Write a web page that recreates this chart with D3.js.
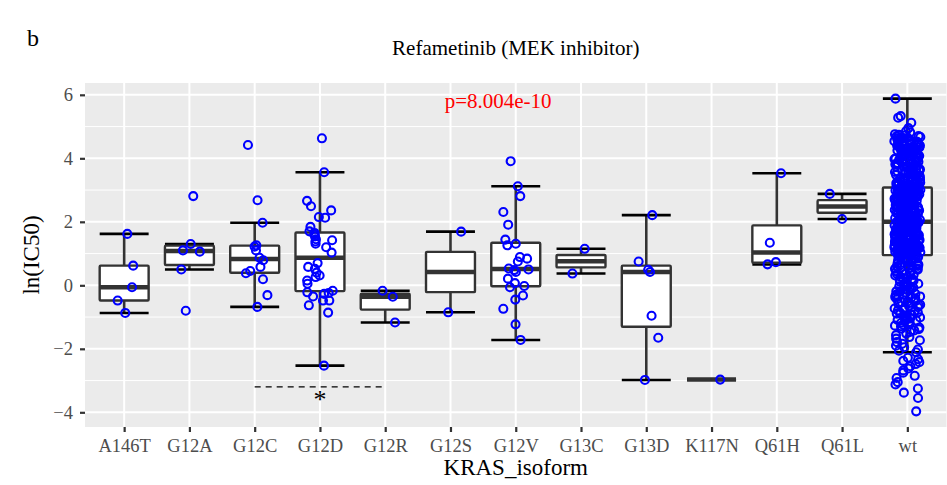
<!DOCTYPE html>
<html>
<head>
<meta charset="utf-8">
<script src="https://cdnjs.cloudflare.com/ajax/libs/d3/7.8.5/d3.min.js"></script>
<style>
  body { margin: 0; background: #fff; }
  svg text { font-family: "Liberation Serif", "Times New Roman", serif; }
</style>
</head>
<body>
<div id="my_chart"></div>
<script>

// KRAS isoforms on the x axis
var isoforms = ["A146T", "G12A", "G12C", "G12D", "G12R", "G12S", "G12V", "G13C", "G13D", "K117N", "Q61H", "Q61L", "wt"];

// ln(IC50) of each cell line
var ic50_A146T = [1.62, 0.62, -0.06, -0.48, -0.87];
var ic50_G12A = [1.30, 1.06, 1.10, 0.50, 2.81, -0.80];
var ic50_G12C = [4.42, 2.68, 1.97, 1.26, 1.22, 1.10, 0.87, 0.79, 0.58, 0.45, 0.38, 0.19, -0.31, -0.68];
var ic50_G12D = [4.63, 3.56, 2.66, 2.49, 2.36, 2.15, 2.13, 1.84, 1.70, 1.65, 1.60, 1.54, 1.45, 1.42, 1.38,
  1.31, 1.20, 1.03, 0.70, 0.58, 0.52, 0.40, 0.31, 0.26, 0.15, 0.05, -0.17, -0.22, -0.24, -0.27,
  -0.35, -0.48, -0.48, -0.63, -0.86, -2.53];
var ic50_G12R = [-0.17, -0.36, -1.17];
var ic50_G12S = [1.69, -0.85];
var ic50_G12V = [3.91, 3.12, 2.81, 2.31, 1.91, 1.44, 1.31, 1.26, 0.89, 0.84, 0.75, 0.53, 0.50, 0.48,
  0.42, 0.21, 0.07, -0.02, -0.06, -0.32, -0.45, -0.74, -1.23, -1.72];
var ic50_G13C = [1.15, 0.37];
var ic50_G13D = [2.21, 0.75, 0.49, 0.42, -0.96, -1.65, -2.98];
var ic50_K117N = [-2.97];
var ic50_Q61H = [3.53, 1.34, 0.73, 0.66];
var ic50_Q61L = [2.88, 2.09];
var ic50_wt = [
  -3.97, -3.55, -3.38, -3.25, -3.12, -3.05, -2.92, -2.85, -2.75, -2.68, -2.62, -2.55, -2.48, -2.42, -2.38, -2.33, -2.28,
  -2.11, -2.06, -2.02, -1.95, -1.90, -1.84, -1.79, -1.73, -1.68, -1.63, -1.57, -1.52, -1.47, -1.42, -1.38,
  -1.33, -1.29, -1.24, -1.20, -1.16, -1.12, -1.09, -1.06, -1.03, -1.01,
  -0.97, -0.95, -0.89, -0.87, -0.81, -0.79, -0.73, -0.71, -0.66, -0.61,
  -0.59, -0.53, -0.51, -0.47, -0.41, -0.38, -0.35, -0.29, -0.27, -0.21,
  -0.19, -0.13, -0.11, -0.07, -0.03, 0.01, 0.05, 0.11, 0.13, 0.17,
  0.23, 0.25, 0.31, 0.33, 0.39, 0.41, 0.47, 0.49, 0.55, 0.57,
  0.63, 0.65, 0.71, 0.74, 0.79, 0.83, 0.87, 0.92, 0.95,
  -1.36, -1.27, -1.18, -1.11, -1.04, -0.93, -0.85, -0.77, -0.69, -0.63,
  -0.56, -0.49, -0.44, -0.37, -0.32, -0.24, -0.16, -0.09, -0.05, 0.03,
  0.08, 0.15, 0.20, 0.27, 0.35, 0.37, 0.44, 0.52, 0.53, 0.60,
  0.61, 0.68, 0.69, 0.76, 0.77, 0.81, 0.85, 0.89, 0.91, 0.93,
  0.96, 0.97, 0.99, 1.00, 1.02, 1.03, 1.04, 1.06, 1.07, 1.07,
  1.08, 1.10, 1.11, 1.12, 1.13, 1.15, 1.16, 1.17, 1.18, 1.19,
  1.21, 1.22, 1.22, 1.24, 1.26, 1.27, 1.28, 1.29, 1.31, 1.31,
  1.32, 1.34, 1.35, 1.36, 1.37, 1.39, 1.40, 1.41, 1.42, 1.43,
  1.45, 1.46, 1.46, 1.48, 1.50, 1.51, 1.52, 1.53, 1.54, 1.55,
  1.57, 1.58, 1.59, 1.60, 1.62, 1.63, 1.64, 1.65, 1.66, 1.67,
  1.69, 1.70, 1.71, 1.72, 1.74, 1.75, 1.76, 1.77, 1.78, 1.79,
  1.80, 1.82, 1.83, 1.84, 1.85, 1.86, 1.88, 1.89, 1.90, 1.91,
  1.93, 1.94, 1.95, 1.96, 1.97, 1.98, 1.99, 1.99, 1.99, 2.00,
  0.98, 1.01, 1.05, 1.09, 1.14, 1.20, 1.23, 1.25, 1.30, 1.33,
  1.38, 1.44, 1.47, 1.49, 1.56, 1.61, 1.68, 1.73, 1.81, 1.87,
  1.92, 1.12, 1.27, 1.36, 1.53, 1.64, 1.76, 1.84, 1.97, 1.06,
  1.18, 1.41, 1.57, 1.71, 1.89, 1.02, 1.33, 1.49, 1.63, 1.95,
  2.01, 2.02, 2.04, 2.05, 2.06, 2.08, 2.09, 2.10, 2.11, 2.13,
  2.14, 2.15, 2.16, 2.18, 2.19, 2.20, 2.22, 2.23, 2.24, 2.25,
  2.27, 2.28, 2.29, 2.30, 2.32, 2.33, 2.34, 2.36, 2.37, 2.38,
  2.39, 2.41, 2.42, 2.43, 2.45, 2.46, 2.47, 2.48, 2.50, 2.51,
  2.52, 2.53, 2.55, 2.56, 2.57, 2.59, 2.60, 2.61, 2.62, 2.64,
  2.65, 2.66, 2.67, 2.69, 2.70, 2.71, 2.73, 2.74, 2.75, 2.76,
  2.78, 2.79, 2.80, 2.81, 2.83, 2.84, 2.85, 2.87, 2.88, 2.89,
  2.90, 2.92, 2.93, 2.94, 2.96, 2.97, 2.98, 2.99, 3.01, 3.02,
  3.03, 3.04, 3.05, 3.05, 3.06, 3.06, 3.07, 3.07, 3.07, 3.08,
  2.03, 2.07, 2.12, 2.17, 2.21, 2.26, 2.31, 2.35, 2.40, 2.44,
  2.49, 2.54, 2.58, 2.63, 2.68, 2.72, 2.77, 2.82, 2.86, 2.91,
  2.95, 3.00, 2.06, 2.24, 2.40, 2.58, 2.72, 2.86, 2.97, 3.04,
  2.12, 2.33, 2.47, 2.63, 2.79, 2.91, 2.18, 2.54, 2.69, 3.01,
  3.10, 3.12, 3.14, 3.16, 3.18, 3.20, 3.22, 3.24, 3.26, 3.28,
  3.30, 3.32, 3.34, 3.36, 3.38, 3.40, 3.42, 3.44, 3.46, 3.48,
  3.50, 3.52, 3.55, 3.57, 3.59, 3.61, 3.63, 3.65, 3.67, 3.69,
  3.71, 3.73, 3.75, 3.77, 3.79, 3.81, 3.83, 3.85, 3.87, 3.89,
  3.91, 3.93, 3.95, 3.97, 3.99, 4.01, 4.03, 4.05, 4.08, 4.10,
  4.12, 4.14, 4.16, 4.18, 4.20, 4.22, 4.24, 4.26, 4.28, 4.30,
  4.32, 4.34, 4.36, 4.38, 4.40, 4.42, 4.44, 4.46, 4.48, 4.50,
  4.52, 4.54, 4.56, 4.58, 4.60, 4.62, 4.64, 4.66, 4.69, 4.72,
  4.74, 4.76, 4.82, 4.95, 5.12, 5.28, 5.33, 5.88, 4.55, 4.61,
  3.11, 3.15, 3.21, 3.27, 3.33, 3.39, 3.45, 3.51, 3.58, 3.64,
  3.70, 3.76, 3.82, 3.88, 3.94, 4.00, 4.07, 4.13, 4.19, 4.25,
  4.31, 4.37, 4.43, 4.49, 4.57, 4.63, 4.70, 3.19, 3.47, 3.74,
  3.98, 4.21, 4.45, 3.35, 3.62, 3.90, 4.15, 4.40, 4.67, 4.85
];

var yTicks = [-4, -2, 0, 2, 4, 6];
var yMinor = [-3, -1, 1, 3, 5];

var panelLetter = "b";
var chartTitle = "Refametinib (MEK inhibitor)";
var xTitle = "KRAS_isoform";
var yTitle = "ln(IC50)";
var pLabel = "p=8.004e-10";
var pPos = [5.73, 5.83];          // [isoform index, ln(IC50)]
var sigFrom = "G12C", sigTo = "G12R", sigMark = "G12D", sigLabel = "*", sigY = -3.2;

var groups = [ic50_A146T, ic50_G12A, ic50_G12C, ic50_G12D, ic50_G12R, ic50_G12S, ic50_G12V,
  ic50_G13C, ic50_G13D, ic50_K117N, ic50_Q61H, ic50_Q61L, ic50_wt];

var width = 947, height = 485;
var panel = {left: 85, right: 946.5, top: 83, bottom: 427};

var svg = d3.select("#my_chart")
  .append("svg")
  .attr("width", width)
  .attr("height", height);

// scales (ggplot style: 0.6 padding for discrete, 5% expansion for continuous)
var x = d3.scalePoint()
  .domain(isoforms)
  .range([panel.left, panel.right])
  .padding(0.6);
var step = x.step();
var xIdx = d3.scaleLinear().domain([0, isoforms.length - 1])
  .range([x(isoforms[0]), x(isoforms[isoforms.length - 1])]);

var allVals = d3.merge(groups);
var ext = d3.extent(allVals);
var pad = (ext[1] - ext[0]) * 0.05;
var y = d3.scaleLinear()
  .domain([ext[0] - pad, ext[1] + pad])
  .range([panel.bottom, panel.top]);

// panel background + grid
svg.append("rect")
  .attr("x", panel.left).attr("y", panel.top)
  .attr("width", panel.right - panel.left).attr("height", panel.bottom - panel.top)
  .attr("fill", "#EBEBEB");

var grid = svg.append("g");
grid.selectAll(".minor").data(yMinor).enter().append("line")
  .attr("x1", panel.left).attr("x2", panel.right)
  .attr("y1", d => y(d)).attr("y2", d => y(d))
  .attr("stroke", "#fff").attr("stroke-width", 1);
grid.selectAll(".majorY").data(yTicks).enter().append("line")
  .attr("x1", panel.left).attr("x2", panel.right)
  .attr("y1", d => y(d)).attr("y2", d => y(d))
  .attr("stroke", "#fff").attr("stroke-width", 2);
grid.selectAll(".majorX").data(isoforms).enter().append("line")
  .attr("x1", d => x(d)).attr("x2", d => x(d))
  .attr("y1", panel.top).attr("y2", panel.bottom)
  .attr("stroke", "#fff").attr("stroke-width", 2);

// box statistics like geom_boxplot
var stats = groups.map(function(vals, i) {
  var s = vals.slice().sort(d3.ascending);
  var q1 = d3.quantile(s, 0.25), med = d3.quantile(s, 0.5), q3 = d3.quantile(s, 0.75);
  var iqr = q3 - q1;
  var lo = d3.min(s.filter(v => v >= q1 - 1.5 * iqr));
  var hi = d3.max(s.filter(v => v <= q3 + 1.5 * iqr));
  return {key: isoforms[i], q1: q1, med: med, q3: q3, lo: lo, hi: hi};
});

var bw = step * 0.75;
var boxes = svg.append("g").selectAll("g").data(stats).enter().append("g");

boxes.append("line")
  .attr("x1", d => x(d.key)).attr("x2", d => x(d.key))
  .attr("y1", d => y(d.lo)).attr("y2", d => y(d.hi))
  .attr("stroke", "#333").attr("stroke-width", 2.6);
// errorbar caps
boxes.selectAll(".cap").data(d => [d.lo, d.hi].map(v => ({key: d.key, v: v})))
  .enter().append("line")
  .attr("x1", d => x(d.key) - bw / 2).attr("x2", d => x(d.key) + bw / 2)
  .attr("y1", d => y(d.v)).attr("y2", d => y(d.v))
  .attr("stroke", "#000").attr("stroke-width", 2.6);
boxes.append("rect")
  .attr("x", d => x(d.key) - bw / 2)
  .attr("y", d => y(d.q3))
  .attr("width", bw)
  .attr("height", d => Math.max(0, y(d.q1) - y(d.q3)))
  .attr("rx", 1)
  .attr("fill", "#fff").attr("stroke", "#333").attr("stroke-width", 2.4);
boxes.append("line")
  .attr("x1", d => x(d.key) - bw / 2).attr("x2", d => x(d.key) + bw / 2)
  .attr("y1", d => y(d.med)).attr("y2", d => y(d.med))
  .attr("stroke", "#333").attr("stroke-width", 4.5);

// jittered points (fixed seed so the layout is stable)
var jit = d3.randomUniform.source(d3.randomLcg(0.1234))(-0.2, 0.2);
var pts = [];
groups.forEach(function(vals, i) {
  vals.forEach(function(v) { pts.push({key: isoforms[i], v: v, dx: jit()}); });
});
svg.append("g").selectAll("circle").data(pts).enter().append("circle")
  .attr("cx", d => x(d.key) + d.dx * step)
  .attr("cy", d => y(d.v))
  .attr("r", 4)
  .attr("fill", "none")
  .attr("stroke", "#0000FF")
  .attr("stroke-width", 2.1);

// significance bracket
svg.append("line")
  .attr("x1", x(sigFrom)).attr("x2", x(sigTo))
  .attr("y1", y(sigY)).attr("y2", y(sigY))
  .attr("stroke", "#000").attr("stroke-width", 1.4)
  .attr("stroke-dasharray", "6,5");
svg.append("text")
  .attr("x", x(sigMark)).attr("y", y(sigY))
  .attr("dy", "0.8em")
  .attr("text-anchor", "middle")
  .style("font-size", "26px")
  .text(sigLabel);

svg.append("text")
  .attr("x", xIdx(pPos[0])).attr("y", y(pPos[1]))
  .attr("dy", "0.35em")
  .attr("text-anchor", "middle")
  .attr("fill", "#FF0000")
  .style("font-size", "21px")
  .text(pLabel);

// axes
var yAxis = svg.append("g")
  .attr("transform", "translate(" + panel.left + ",0)")
  .call(d3.axisLeft(y).tickValues(yTicks).tickSize(5).tickPadding(7));
var xAxis = svg.append("g")
  .attr("transform", "translate(0," + panel.bottom + ")")
  .call(d3.axisBottom(x).tickSize(5).tickPadding(7));
[xAxis, yAxis].forEach(function(a) {
  a.select(".domain").remove();
  a.selectAll(".tick line").attr("stroke", "#333").attr("stroke-width", 2.2);
  a.selectAll(".tick text")
    .attr("fill", "#4D4D4D")
    .style("font-size", "18.5px")
    .style("font-family", "'Liberation Serif', 'Times New Roman', serif");
});

// titles
svg.append("text")
  .attr("x", 27).attr("y", 46)
  .style("font-size", "24px")
  .text(panelLetter);
svg.append("text")
  .attr("x", (panel.left + panel.right) / 2).attr("y", 55)
  .attr("text-anchor", "middle")
  .style("font-size", "21px")
  .text(chartTitle);
svg.append("text")
  .attr("x", (panel.left + panel.right) / 2).attr("y", 475)
  .attr("text-anchor", "middle")
  .style("font-size", "23px")
  .text(xTitle);
svg.append("text")
  .attr("transform", "translate(39," + (panel.top + panel.bottom) / 2 + ") rotate(-90)")
  .attr("text-anchor", "middle")
  .style("font-size", "23px")
  .text(yTitle);

</script>
</body>
</html>
